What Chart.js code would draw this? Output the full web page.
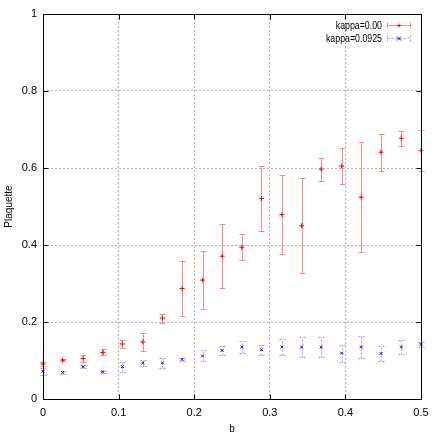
<!DOCTYPE html>
<html>
<head>
<meta charset="utf-8">
<script src="https://cdn.jsdelivr.net/npm/chart.js@4.4.0/dist/chart.umd.min.js"></script>
<style>
  html, body { margin: 0; padding: 0; background: #fff; }
  canvas { display: block; }
</style>
</head>
<body>
<canvas id="plaquetteChart" width="436" height="436"></canvas>
<script>
const bValues = [0, 0.026, 0.053, 0.079, 0.105, 0.132, 0.158, 0.184, 0.211, 0.237,
  0.263, 0.289, 0.316, 0.342, 0.368, 0.395, 0.421, 0.447, 0.474, 0.5];
const kappa000Mean = [0.091, 0.101, 0.105, 0.121, 0.143, 0.148, 0.210, 0.287, 0.309, 0.371,
  0.394, 0.521, 0.479, 0.450, 0.597, 0.605, 0.524, 0.641, 0.677, 0.645];
const kappa000Err = [0.005, 0.003, 0.009, 0.008, 0.010, 0.023, 0.012, 0.071, 0.076, 0.083,
  0.034, 0.085, 0.103, 0.124, 0.030, 0.047, 0.143, 0.048, 0.020, 0.053];
const kappa0925Mean = [0.072, 0.069, 0.084, 0.071, 0.084, 0.093, 0.094, 0.103, 0.112, 0.126,
  0.135, 0.128, 0.135, 0.135, 0.135, 0.119, 0.135, 0.118, 0.135, 0.142];
const kappa0925Err = [0.009, 0.003, 0.004, 0.003, 0.013, 0.008, 0.013, 0.004, 0.014, 0.012,
  0.016, 0.013, 0.022, 0.026, 0.025, 0.022, 0.029, 0.019, 0.017, 0.006];
const xTicks = [0, 0.1, 0.2, 0.3, 0.4, 0.5];
const yTicks = [0, 0.2, 0.4, 0.6, 0.8, 1];

const FONT = '"Liberation Sans", Arial, sans-serif';

function points(means) {
  return bValues.map((b, i) => ({ x: b, y: means[i] }));
}

function crisp(v) {
  return Math.round(v) + 0.5;
}

function drawMarker(ctx, style, px, py, r) {
  ctx.beginPath();
  if (style === 'cross') {
    ctx.moveTo(px - r, py); ctx.lineTo(px + r, py);
    ctx.moveTo(px, py - r); ctx.lineTo(px, py + r);
  } else {
    ctx.moveTo(px - r, py - r); ctx.lineTo(px + r, py + r);
    ctx.moveTo(px - r, py + r); ctx.lineTo(px + r, py - r);
  }
  ctx.stroke();
}

// error bars, border with inward ticks and the legend, drawn gnuplot style
const gnuplotPlugin = {
  id: 'gnuplot',
  beforeDatasetsDraw(chart) {
    const { ctx, scales: { x, y } } = chart;
    chart.data.datasets.forEach((ds) => {
      ctx.save();
      ctx.strokeStyle = ds.barColor;
      ctx.lineWidth = 1;
      ctx.setLineDash(ds.barDash);
      ds.err.forEach((e, i) => {
        const px = crisp(x.getPixelForValue(bValues[i]));
        const lo = crisp(y.getPixelForValue(ds.mean[i] - e));
        const hi = crisp(y.getPixelForValue(ds.mean[i] + e));
        ctx.beginPath();
        ctx.moveTo(px, lo); ctx.lineTo(px, hi);
        ctx.moveTo(px - 3, lo); ctx.lineTo(px + 3, lo);
        ctx.moveTo(px - 3, hi); ctx.lineTo(px + 3, hi);
        ctx.stroke();
      });
      ctx.restore();
    });
  },
  afterDraw(chart) {
    const { ctx, chartArea: a, scales: { x, y } } = chart;
    const l = crisp(a.left), r = crisp(a.right), t = crisp(a.top), b = crisp(a.bottom);
    ctx.save();
    ctx.strokeStyle = '#000';
    ctx.lineWidth = 1;
    ctx.strokeRect(l, t, r - l, b - t);
    ctx.beginPath();
    xTicks.forEach((v) => {
      const px = crisp(x.getPixelForValue(v));
      ctx.moveTo(px, b); ctx.lineTo(px, b - 5);
      ctx.moveTo(px, t); ctx.lineTo(px, t + 5);
    });
    yTicks.forEach((v) => {
      const py = crisp(y.getPixelForValue(v));
      ctx.moveTo(l, py); ctx.lineTo(l + 5, py);
      ctx.moveTo(r, py); ctx.lineTo(r - 5, py);
    });
    ctx.stroke();

    // legend, top right inside the plot (narrowed like the gnuplot font)
    ctx.font = '11px ' + FONT;
    ctx.textAlign = 'right';
    ctx.textBaseline = 'middle';
    chart.data.datasets.forEach((ds, i) => {
      const ly = 25.5 + i * 13;
      ctx.save();
      ctx.translate(382, ly);
      ctx.scale(0.8, 1);
      ctx.fillStyle = '#000';
      ctx.fillText(ds.label, 0, 0);
      ctx.restore();
      ctx.strokeStyle = ds.barColor;
      ctx.setLineDash(ds.barDash);
      ctx.beginPath();
      ctx.moveTo(387.5, ly); ctx.lineTo(410.5, ly);
      ctx.moveTo(387.5, ly - 3); ctx.lineTo(387.5, ly + 3);
      ctx.moveTo(410.5, ly - 3); ctx.lineTo(410.5, ly + 3);
      ctx.stroke();
      ctx.setLineDash([]);
      ctx.strokeStyle = ds.borderColor;
      drawMarker(ctx, ds.pointStyle, 399, ly, 2);
    });
    ctx.restore();
  }
};

const tickFont = { family: FONT, size: 11 };
const titleFont = { family: FONT, size: 10 };
const fmt = (v) => String(+Number(v).toFixed(2));

new Chart(document.getElementById('plaquetteChart'), {
  type: 'scatter',
  data: {
    datasets: [
      {
        label: 'kappa=0.00',
        data: points(kappa000Mean),
        mean: kappa000Mean,
        err: kappa000Err,
        pointStyle: 'cross',
        pointRadius: 2.5,
        pointBorderWidth: 1,
        borderColor: '#ff0000',
        backgroundColor: '#ff0000',
        barColor: 'rgba(255, 0, 0, 0.45)',
        barDash: [],
        clip: false
      },
      {
        label: 'kappa=0.0925',
        data: points(kappa0925Mean),
        mean: kappa0925Mean,
        err: kappa0925Err,
        pointStyle: 'crossRot',
        pointRadius: 2,
        pointBorderWidth: 1,
        borderColor: '#0000ff',
        backgroundColor: '#0000ff',
        barColor: 'rgba(0, 0, 255, 0.4)',
        barDash: [2, 2],
        clip: false
      }
    ]
  },
  options: {
    responsive: false,
    animation: false,
    events: [],
    layout: { padding: { top: 14, right: 15, left: 0, bottom: 0 } },
    plugins: {
      legend: { display: false },
      tooltip: { enabled: false }
    },
    scales: {
      x: {
        type: 'linear',
        min: 0,
        max: 0.5,
        afterBuildTicks: (s) => { s.ticks = xTicks.map((v) => ({ value: v })); },
        afterFit: (s) => { s.height = 37; },
        ticks: { font: tickFont, color: '#000', padding: 7, maxRotation: 0, callback: fmt },
        grid: { color: '#b4b4b4', drawTicks: false },
        border: { display: false, dash: [2, 2] },
        title: { display: true, text: 'b', font: titleFont, color: '#000', padding: { top: 0, bottom: 1 } }
      },
      y: {
        type: 'linear',
        min: 0,
        max: 1,
        afterBuildTicks: (s) => { s.ticks = yTicks.map((v) => ({ value: v })); },
        afterFit: (s) => { s.width = 43; },
        ticks: { font: tickFont, color: '#000', padding: 6, callback: fmt },
        grid: { color: '#b4b4b4', drawTicks: false },
        border: { display: false, dash: [2, 2] },
        title: { display: true, text: 'Plaquette', font: titleFont, color: '#000', padding: { top: 3, bottom: 0 } }
      }
    }
  },
  plugins: [gnuplotPlugin]
});
</script>
</body>
</html>
